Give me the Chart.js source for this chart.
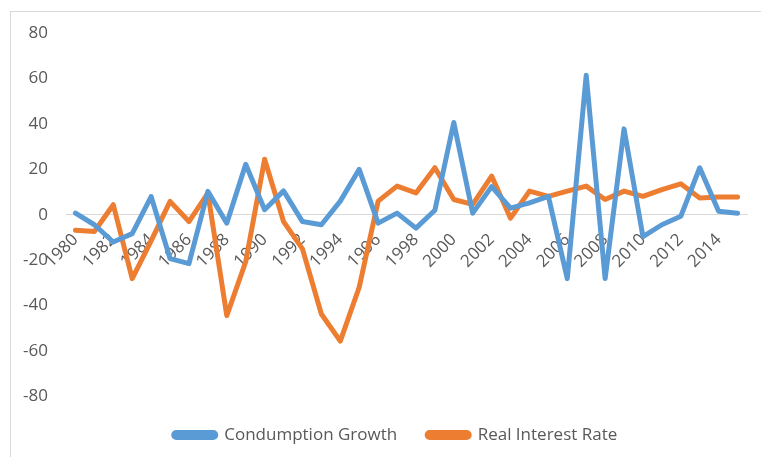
<!DOCTYPE html>
<html>
<head>
<meta charset="utf-8">
<script src="https://cdn.jsdelivr.net/npm/chart.js@4.4.1/dist/chart.umd.min.js"></script>
<style>
  html, body { margin: 0; padding: 0; background: #ffffff; }
  #wrap { position: relative; width: 761px; height: 457px; overflow: hidden; }
  #frame { position: absolute; left: 10px; top: 11px; width: 800px; height: 500px;
           border-left: 1px solid #d9d9d9; border-top: 1px solid #d9d9d9; box-sizing: border-box; }
  #c { position: absolute; left: 0; top: 0; }
</style>
</head>
<body>
<div id="wrap">
  <div id="frame"></div>
  <canvas id="c" width="761" height="457"></canvas>
</div>
<script>
// Years on the category axis
const years = [
  1980, 1981, 1982, 1983, 1984, 1985, 1986, 1987, 1988, 1989,
  1990, 1991, 1992, 1993, 1994, 1995, 1996, 1997, 1998, 1999,
  2000, 2001, 2002, 2003, 2004, 2005, 2006, 2007, 2008, 2009,
  2010, 2011, 2012, 2013, 2014, 2015
];

// Annual consumption growth (%)
const consumptionGrowth = [
  0.7, -4.4, -12, -8.3, 8, -19.3, -21.5, 10.3, -3.7, 22.2,
  2.2, 10.5, -3, -4.4, 6, 20, -3.7, 0.7, -5.9, 2,
  40.6, 0.7, 12.4, 2.9, 5.2, 8.1, -28.1, 61.4, -28.1, 37.8,
  -9.6, -4.4, -0.7, 20.7, 1.5, 0.7
];

// Real interest rate (%)
const realInterestRate = [
  -6.8, -7.4, 4.4, -28.1, -11.5, 5.9, -3, 9.5, -44.4, -20.7,
  24.4, -3, -15, -43.7, -55.6, -31.9, 6, 12.6, 9.6, 20.7,
  6.7, 4.6, 17, -1.5, 10.4, 8.1, 10.4, 12.6, 6.7, 10.4,
  8.1, 11.1, 13.6, 7.4, 7.8, 7.8
];

// Y-axis tick values
const yTicks = [80, 60, 40, 20, 0, -20, -40, -60, -80];

const FONT = "'Open Sans', 'DejaVu Sans', sans-serif";
const TEXT = '#595959';

// Nudge the legend row to the right of the canvas centre
const legendShift = {
  id: 'legendShift',
  afterLayout(chart) {
    const lg = chart.legend;
    if (lg) { lg.left += 19; lg.right += 19; }
  }
};

new Chart(document.getElementById('c'), {
  type: 'line',
  plugins: [legendShift],
  data: {
    labels: years.map(String),
    datasets: [
      {
        label: 'Condumption Growth',
        data: consumptionGrowth,
        borderColor: '#5b9bd5',
        backgroundColor: '#5b9bd5',
        borderWidth: 5,
        pointRadius: 0,
        tension: 0,
        borderJoinStyle: 'round',
        borderCapStyle: 'round'
      },
      {
        label: 'Real Interest Rate',
        data: realInterestRate,
        borderColor: '#ed7d31',
        backgroundColor: '#ed7d31',
        borderWidth: 5,
        pointRadius: 0,
        tension: 0,
        borderJoinStyle: 'round',
        borderCapStyle: 'round'
      }
    ]
  },
  options: {
    responsive: false,
    animation: false,
    layout: { padding: { left: 6, right: 14, top: 33, bottom: 3.5 } },
    plugins: {
      tooltip: { enabled: false },
      legend: {
        position: 'bottom',
        labels: {
          font: { family: FONT, size: 17 },
          color: TEXT,
          boxWidth: 42,
          boxHeight: 5,
          useBorderRadius: true,
          borderRadius: 2.5,
          padding: 30
        }
      }
    },
    scales: {
      x: {
        position: { y: 0 },
        offset: true,
        grid: { display: false, drawTicks: false },
        border: { display: true, color: '#d9d9d9', width: 1 },
        ticks: {
          autoSkip: false,
          minRotation: 45,
          maxRotation: 45,
          padding: 15,
          color: TEXT,
          font: { family: FONT, size: 17 },
          callback: function (v, i) { return i % 2 === 0 ? years[i] : ''; }
        },
        afterFit: function (s) { s.height = 3.5; s.paddingLeft = 0; s.paddingRight = 0; }
      },
      y: {
        min: -80,
        max: 80,
        afterBuildTicks: function (s) { s.ticks = yTicks.map(v => ({ value: v })); },
        grid: { display: false, drawTicks: false },
        border: { display: false },
        ticks: {
          padding: 18,
          color: TEXT,
          font: { family: FONT, size: 17 }
        },
        afterFit: function (s) { s.width = 60; }
      }
    }
  }
});
</script>
</body>
</html>
